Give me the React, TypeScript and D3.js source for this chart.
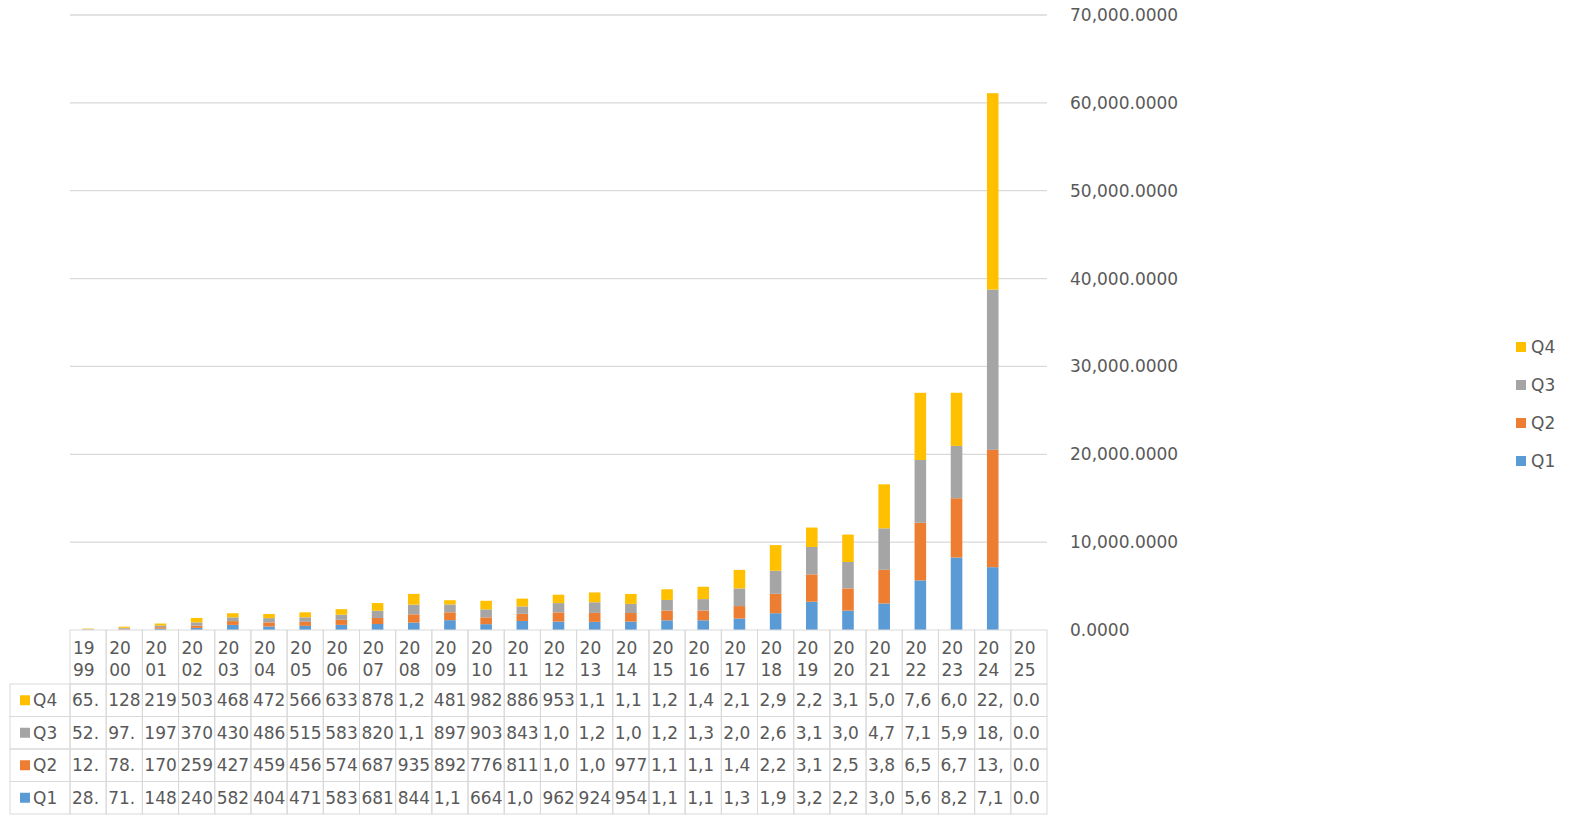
import * as d3 from 'd3'

const years = [
  '1999', '2000', '2001', '2002', '2003', '2004', '2005', '2006', '2007',
  '2008', '2009', '2010', '2011', '2012', '2013', '2014', '2015', '2016',
  '2017', '2018', '2019', '2020', '2021', '2022', '2023', '2024', '2025',
]

const q1 = [
  28.41, 71.36, 148.27, 240.55, 582.13, 404.62, 471.08, 583.44, 681.29,
  844.71, 1120.35, 664.18, 1030.52, 962.47, 924.33, 954.81, 1105.2, 1105.6,
  1310.4, 1910.7, 3220.3, 2210.9, 3020.5, 5650.2, 8250.6, 7150.4, 0,
]
const q2 = [
  12.83, 78.25, 170.64, 259.18, 427.92, 459.37, 456.71, 574.26, 687.55,
  935.42, 892.16, 776.83, 811.47, 1040.28, 1020.64, 977.39, 1110.5, 1110.3,
  1410.8, 2210.4, 3110.6, 2520.1, 3830.7, 6550.3, 6750.8, 13350.2, 0,
]
const q3 = [
  52.67, 97.14, 197.38, 370.82, 430.25, 486.59, 515.43, 583.91, 820.36,
  1110.28, 897.53, 903.72, 843.15, 1060.44, 1210.37, 1040.62, 1205.4, 1300.8,
  2010.2, 2620.5, 3120.3, 3010.7, 4720.4, 7150.6, 5950.2, 18250.7, 0,
]
const q4 = [
  65.29, 128.47, 219.56, 503.14, 468.73, 472.35, 566.82, 633.19, 878.64,
  1220.57, 481.26, 982.48, 886.73, 953.61, 1120.45, 1130.28, 1215.6, 1405.3,
  2110.7, 2920.4, 2210.8, 3120.5, 5010.3, 7650.4, 6050.7, 22350.5, 0,
]

const seriesNames = ['Q1', 'Q2', 'Q3', 'Q4']
const seriesColors = ['#5B9BD5', '#ED7D31', '#A5A5A5', '#FFC000']
const yTicks = [0, 10000, 20000, 30000, 40000, 50000, 60000, 70000]

const W = 1585
const H = 817
const FONT = '"DejaVu Sans", Verdana, sans-serif'
const TEXT = '#595959'
const BORDER = '#d9d9d9'

export default function App() {
  const values = [q1, q2, q3, q4]
  const rows = years.map((yr, i) => {
    const r: Record<string, number | string> = { year: yr }
    seriesNames.forEach((s, k) => (r[s] = values[k][i]))
    return r
  })
  const stacked = d3.stack<Record<string, any>>().keys(seriesNames)(rows)

  const x = d3.scaleBand<string>().domain(years).range([70, 1047]).padding(0)
  const y = d3.scaleLinear().domain([0, 70000]).range([630, 15])
  const bw = x.bandwidth() * 0.32
  const fmt = d3.format(',.4f')

  // table geometry
  const headTop = 630
  const headBottom = 684
  const rowH = 32.5
  const tableRows = ['Q4', 'Q3', 'Q2', 'Q1']
  const rowY = d3.scaleBand<string>().domain(tableRows).range([headBottom, headBottom + rowH * 4])

  return (
    <svg
      width={W}
      height={H}
      style={{ position: 'absolute', left: 0, top: 0, background: '#fff' }}
      fontFamily={FONT}
    >
      {/* gridlines */}
      {yTicks.slice(1).map((t) => (
        <line key={t} x1={70} x2={1047} y1={y(t)} y2={y(t)} stroke={BORDER} strokeWidth={1.3} />
      ))}
      {/* right axis labels */}
      {yTicks.map((t) => (
        <text key={t} x={1070} y={y(t)} dy="0.35em" fontSize={17} fill={TEXT}>
          {fmt(t)}
        </text>
      ))}

      {/* bars */}
      {stacked.map((layer, k) => (
        <g key={layer.key} fill={seriesColors[k]}>
          {layer.map((d, i) => (
            <rect
              key={i}
              x={x(years[i])! + (x.bandwidth() - bw) / 2}
              y={y(d[1])}
              width={bw}
              height={Math.max(0, y(d[0]) - y(d[1]))}
            />
          ))}
        </g>
      ))}

      {/* data table: header */}
      {years.map((yr) => (
        <g key={yr}>
          <rect
            x={x(yr)!}
            y={headTop}
            width={x.bandwidth()}
            height={headBottom - headTop}
            fill="none"
            stroke={BORDER}
          />
          <text x={x(yr)! + 3} y={648} dy="0.35em" fontSize={17} fill={TEXT}>
            {yr.slice(0, 2)}
          </text>
          <text x={x(yr)! + 3} y={670} dy="0.35em" fontSize={17} fill={TEXT}>
            {yr.slice(2)}
          </text>
        </g>
      ))}

      {/* data table: rows */}
      {tableRows.map((name) => {
        const k = seriesNames.indexOf(name)
        const ry = rowY(name)!
        const cy = ry + rowY.bandwidth() / 2
        return (
          <g key={name}>
            <rect x={10} y={ry} width={60} height={rowY.bandwidth()} fill="none" stroke={BORDER} />
            <rect x={20} y={cy - 5} width={10} height={10} fill={seriesColors[k]} />
            <text x={33} y={cy} dy="0.35em" fontSize={17} fill={TEXT}>
              {name}
            </text>
            {years.map((yr, i) => (
              <g key={yr}>
                <rect
                  x={x(yr)!}
                  y={ry}
                  width={x.bandwidth()}
                  height={rowY.bandwidth()}
                  fill="none"
                  stroke={BORDER}
                />
                <text x={x(yr)! + 2} y={cy} dy="0.35em" fontSize={17} fill={TEXT}>
                  {fmt(values[k][i]).slice(0, 3)}
                </text>
              </g>
            ))}
          </g>
        )
      })}

      {/* legend */}
      {tableRows.map((name, j) => {
        const k = seriesNames.indexOf(name)
        const ly = 347 + j * 38
        return (
          <g key={name}>
            <rect x={1516} y={ly - 5} width={10} height={10} fill={seriesColors[k]} />
            <text x={1531} y={ly} dy="0.35em" fontSize={17} fill={TEXT}>
              {name}
            </text>
          </g>
        )
      })}
    </svg>
  )
}
